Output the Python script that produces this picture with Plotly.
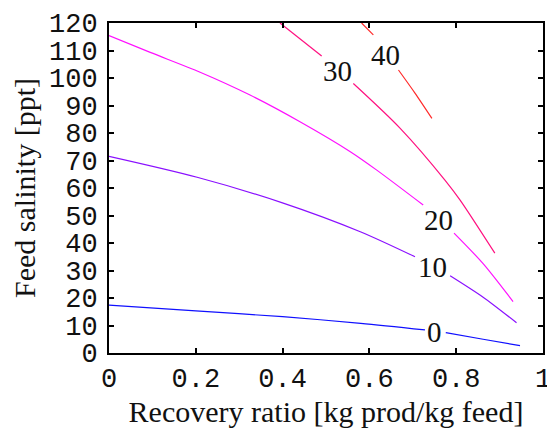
import plotly.graph_objects as go

# contour level values and their line colours
levels = [0, 10, 20, 30, 40]
colors = ["#1010ff", "#8a10ff", "#ff10ff", "#ff1080", "#ff2a2a"]

# contour lines (None = gap where the label sits)
x0 = [0.0, 0.2, 0.4, 0.58, 0.728, None, 0.776, 0.862, 0.947]
y0 = [17.4, 15.3, 13.2, 10.8, 8.4, None, 7.4, 5.0, 2.7]

x10 = [0.0, 0.203, 0.398, 0.579, 0.705, None, 0.786, 0.862, 0.939]
y10 = [71.5, 63.9, 54.7, 44.1, 35.0, None, 28.1, 20.3, 11.0]

x20 = [0.0, 0.095, 0.21, 0.325, 0.44, 0.556, 0.617, 0.724, None, 0.795, 0.862, 0.931]
y20 = [115.4, 109.3, 102.1, 93.8, 84.1, 73.2, 66.5, 53.8, None, 43.6, 32.5, 18.7]

x30 = [0.394, 0.49, None, 0.563, 0.671, 0.774, 0.809, 0.889]
y30 = [120.0, 108.0, None, 98.0, 81.7, 62.9, 55.6, 36.3]

x40 = [0.582, 0.609, None, 0.667, 0.705, 0.744]
y40 = [120.0, 115.7, None, 102.9, 94.5, 85.3]

# label positions (data coords)
label_x = [0.751, 0.746, 0.759, 0.527, 0.636]
label_y = [7.8, 31.3, 48.4, 102.7, 108.4]

x_ticks = [0, 0.2, 0.4, 0.6, 0.8, 1]
x_ticktext = ["0", "0.2", "0.4", "0.6", "0.8", "1"]
y_ticks = [0, 10, 20, 30, 40, 50, 60, 70, 80, 90, 100, 110, 120]

curves = [(x0, y0), (x10, y10), (x20, y20), (x30, y30), (x40, y40)]

fig = go.Figure()
for (xs, ys), c in zip(curves, colors):
    fig.add_trace(go.Scatter(x=xs, y=ys, mode="lines",
                             line=dict(color=c, width=1.2, shape="spline", smoothing=0.8),
                             connectgaps=False, showlegend=False,
                             hoverinfo="skip"))

for lx, ly, lv in zip(label_x, label_y, levels):
    fig.add_annotation(x=lx, y=ly, text=str(lv), showarrow=False,
                       font=dict(family="Liberation Serif", size=29, color="#111111"),
                       xanchor="center", yanchor="middle")

axis_common = dict(showline=True, linecolor="black", linewidth=2, mirror="ticks",
                   ticks="inside", ticklen=5, tickwidth=1.5, tickcolor="black",
                   showgrid=False, zeroline=False, automargin=False,
                   tickfont=dict(family="Liberation Mono", size=27, color="#111111"),
                   title_font=dict(family="Liberation Serif", size=30, color="#111111"))

fig.update_xaxes(range=[0, 1], tickvals=x_ticks, ticktext=x_ticktext,
                 title_text="Recovery ratio [kg prod/kg feed]", title_standoff=7,
                 **axis_common)
fig.update_yaxes(range=[0, 120], tickvals=y_ticks, ticklabelstandoff=4,
                 title_text="Feed salinity [ppt]", title_standoff=8,
                 **axis_common)

# page body has an 8px margin, so the figure is sized/offset to compensate
fig.update_layout(width=547, height=420,
                  margin=dict(l=101, r=12, t=15, b=75),
                  plot_bgcolor="white", paper_bgcolor="white")

fig.write_html("out.html")
